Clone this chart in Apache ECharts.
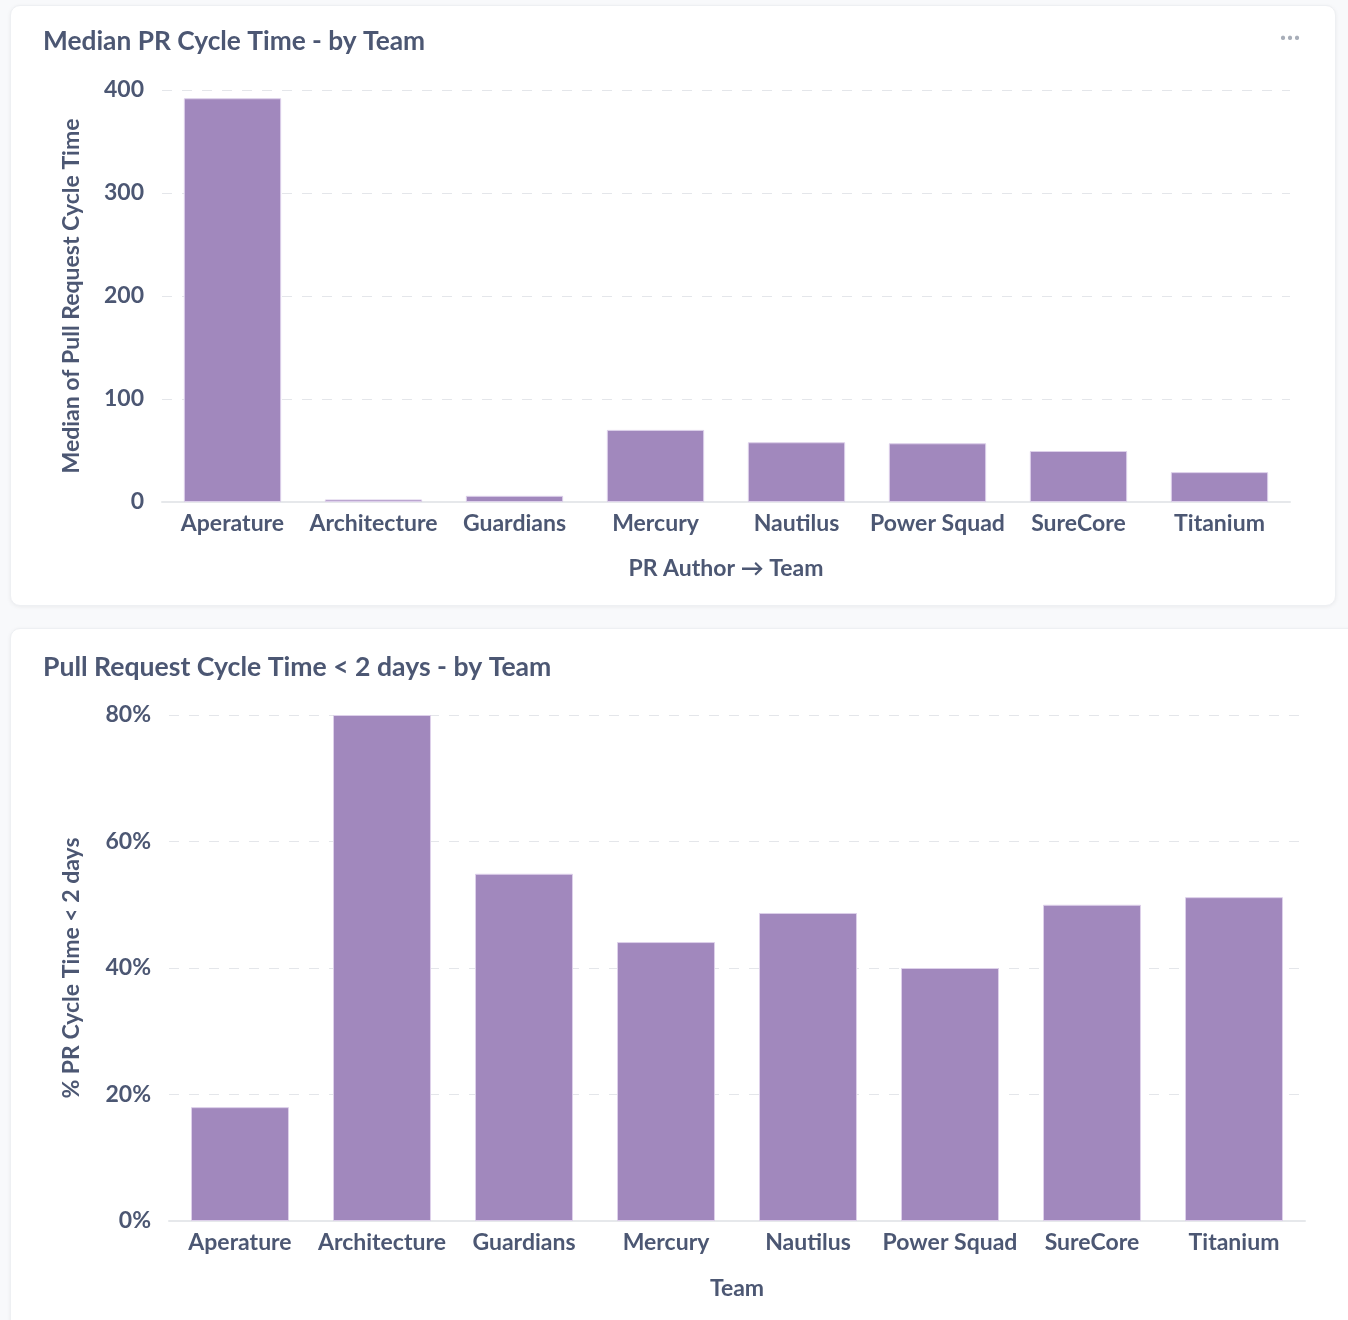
<!DOCTYPE html>
<html>
<head>
<meta charset="utf-8">
<script src="https://cdn.jsdelivr.net/npm/echarts@6/dist/echarts.min.js"></script>
<style>
  html, body { margin: 0; padding: 0; background: #f8f9fb; width: 1348px; height: 1320px; overflow: hidden; font-family: Lato, sans-serif; }
  .card { position: absolute; background: #fff; border-radius: 10px; border: 1px solid #eef0f3; box-shadow: 0 1px 4px rgba(0,0,0,0.06); overflow: hidden; }
  #c1 { left: 10px; top: 5px; width: 1324px; height: 599px; }
  #c2 { left: 10px; top: 628px; width: 1350px; height: 720px; }
  .chart { position: absolute; left: 0; top: 0; width: 100%; height: 100%; }
  .dots { position: absolute; right: 34px; top: 17px; color: #a8aeb9; font-size: 22px; letter-spacing: 1px; font-weight: bold; }
</style>
</head>
<body>
<div class="card" id="c1"><div class="chart" id="chart1"></div><div class="dots">···</div></div>
<div class="card" id="c2"><div class="chart" id="chart2"></div></div>
<script>
const teams = ["Aperature", "Architecture", "Guardians", "Mercury", "Nautilus", "Power Squad", "SureCore", "Titanium"];
const medianCycleTime = [392, 2.5, 6, 70, 58, 57, 49.5, 29];
const pctUnder2Days = [18.0, 80.0, 54.9, 44.1, 48.7, 40.0, 50.0, 51.2];
const yTicks1 = [0, 100, 200, 300, 400];
const yTicks2 = [0, 20, 40, 60, 80];

const TEXT = '#4c5773';
const BAR = '#a188bd';
const FONT = 'Lato, sans-serif';
const AX = 23;

function makeOption(title, titleTop, titleSize, data, grid, yMax, yInterval, yFmt, yName, xName, yNameGap, xNameGap) {
  return {
    animation: false,
    textStyle: { fontFamily: FONT },
    title: {
      text: title, left: 27, top: titleTop,
      textStyle: { fontFamily: FONT, fontSize: titleSize, fontWeight: 'bold', color: TEXT }
    },
    grid: grid,
    xAxis: {
      type: 'category', data: teams,
      axisLine: { show: true, lineStyle: { color: '#e6e8eb', width: 2 } },
      axisTick: { show: false },
      axisLabel: { color: TEXT, fontFamily: FONT, fontSize: AX, fontWeight: 'bold', margin: 10, interval: 0 },
      name: xName, nameLocation: 'middle', nameGap: xNameGap,
      nameTextStyle: { color: TEXT, fontFamily: FONT, fontSize: AX, fontWeight: 'bold' }
    },
    yAxis: {
      type: 'value', min: 0, max: yMax, interval: yInterval,
      axisLine: { show: false }, axisTick: { show: false },
      splitLine: { lineStyle: { color: '#e4e6ea', type: [10, 10], width: 1 } },
      axisLabel: { color: TEXT, fontFamily: FONT, fontSize: AX, fontWeight: 'bold', margin: 18, formatter: yFmt },
      name: yName, nameLocation: 'middle', nameGap: yNameGap, nameRotate: 90,
      nameTextStyle: { color: TEXT, fontFamily: FONT, fontSize: AX, fontWeight: 'bold' }
    },
    series: [{
      type: 'bar', data: data, barWidth: '69%',
      itemStyle: { color: BAR, borderColor: '#ddd0ea', borderWidth: 1 }
    }]
  };
}

const ch1 = echarts.init(document.getElementById('chart1'));
ch1.setOption(makeOption('Median PR Cycle Time - by Team', 18, 26.3, medianCycleTime,
  { left: 151, right: 45, top: 84, bottom: 103 }, yTicks1[yTicks1.length - 1], 100,
  v => String(v), 'Median of Pull Request Cycle Time', 'PR Author → Team', 79, 55));

const ch2 = echarts.init(document.getElementById('chart2'));
ch2.setOption(makeOption('Pull Request Cycle Time < 2 days - by Team', 20, 26.6, pctUnder2Days,
  { left: 158, right: 56, top: 86, bottom: 128 }, yTicks2[yTicks2.length - 1], 20,
  v => v + '%', '% PR Cycle Time < 2 days', 'Team', 86, 56));
</script>
</body>
</html>
